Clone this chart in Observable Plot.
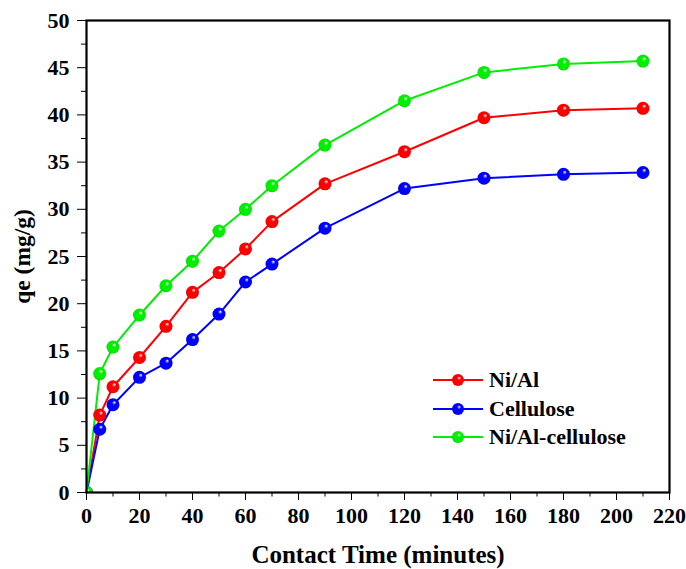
<!DOCTYPE html>
<html><head><meta charset="utf-8">
<script src="https://cdn.jsdelivr.net/npm/d3@7"></script>
<script src="https://cdn.jsdelivr.net/npm/@observablehq/plot@0.6"></script>
<style>
body{margin:0;background:#fff;}
#wrap{position:relative;width:686px;height:569px;}
#legend{position:absolute;left:433px;top:366px;font-family:"Liberation Serif","Times New Roman",serif;font-weight:bold;font-size:22px;color:#000;}
#legend .row{display:flex;align-items:center;height:28.5px;}
#legend .row span{margin-left:6px;}
</style></head>
<body><div id="wrap"><div id="chart"></div><div id="legend"></div></div>
<script>
const times = [0,5,10,20,30,40,50,60,70,90,120,150,180,210];
const niAl = [0,8.2,11.2,14.3,17.6,21.2,23.3,25.8,28.7,32.7,36.1,39.7,40.5,40.7];
const cellulose = [0,6.7,9.3,12.2,13.7,16.2,18.9,22.3,24.2,28.0,32.2,33.3,33.7,33.9];
const niAlCellulose = [0,12.6,15.4,18.8,21.9,24.5,27.7,30.0,32.5,36.8,41.5,44.5,45.4,45.7];
const seriesNames = ["Ni/Al","Cellulose","Ni/Al-cellulose"];
const seriesColors = ["#ff0000","#0000ff","#00ee00"];
const seriesDark = ["#800000","#000080","#007a00"];
const xTicks = d3.range(0,221,20);
const xMinor = d3.range(10,220,20);
const yTicks = d3.range(0,51,5);
const yMinor = d3.range(2.5,50,5);
const xLabel = "Contact Time (minutes)";
const yLabel = "qe (mg/g)";

const seriesValues = [niAl, cellulose, niAlCellulose];
const series = seriesNames.map((name,i)=>({name, color:seriesColors[i], id:"grad"+i,
  data: times.map((t,j)=>({t, q: seriesValues[i][j]}))}));

const font = '"Liberation Serif","Times New Roman",serif';
const marks = [];
for (const s of series) {
  marks.push(Plot.line(s.data, {x:"t", y:"q", stroke:s.color, strokeWidth:2}));
}
for (const s of series) {
  marks.push(Plot.dot(s.data, {x:"t", y:"q", r:6.5, fill:`url(#${s.id})`, stroke:"none", clip:"frame"}));
}
marks.push(
  Plot.axisX({ticks:xMinor, tickSize:4.5, tickWidth:1.5, text:null, label:null}),
  Plot.axisY({ticks:yMinor, tickSize:5, tickWidth:1.5, text:null, label:null}),
  Plot.axisX({ticks:xTicks, tickSize:8, tickWidth:2, tickPadding:7, label:null, fontSize:22, fontWeight:"bold"}),
  Plot.axisY({ticks:yTicks, tickSize:9, tickWidth:2, tickPadding:8, label:null, fontSize:22, fontWeight:"bold"}),
  Plot.frame({stroke:"#000", strokeWidth:2.2}),
  Plot.text([xLabel], {text:d=>d, frameAnchor:"bottom", lineAnchor:"middle", dy:62, fontSize:25, fontWeight:"bold"}),
  Plot.text([yLabel], {text:d=>d, frameAnchor:"left", textAnchor:"middle", lineAnchor:"middle", dx:-64, rotate:-90, fontSize:23.5, fontWeight:"bold"})
);

const svg = Plot.plot({
  width:686, height:569,
  marginLeft:86, marginTop:20, marginRight:17, marginBottom:77,
  x:{domain:[0,220]}, y:{domain:[0,50]},
  style:{fontFamily:font, color:"#000", background:"#fff", overflow:"visible"},
  marks
});
const defs = d3.select(svg).insert("defs", ":first-child");
series.forEach((s,i)=>{
  const g = defs.append("radialGradient").attr("id", s.id)
    .attr("cx","50%").attr("cy","50%").attr("r","55%").attr("fx","62%").attr("fy","30%");
  g.append("stop").attr("offset","0%").attr("stop-color","#ffffff");
  g.append("stop").attr("offset","30%").attr("stop-color",s.color);
  g.append("stop").attr("offset","85%").attr("stop-color",s.color);
  g.append("stop").attr("offset","100%").attr("stop-color",seriesDark[i]);
});
document.getElementById("chart").appendChild(svg);

const leg = d3.select("#legend");
series.forEach(s=>{
  const row = leg.append("div").attr("class","row");
  const sv = row.append("svg").attr("width",50).attr("height",16);
  sv.append("line").attr("x1",0).attr("x2",50).attr("y1",8).attr("y2",8).attr("stroke",s.color).attr("stroke-width",2);
  sv.append("circle").attr("cx",25).attr("cy",8).attr("r",6).attr("fill",`url(#${s.id})`);
  row.append("span").text(s.name);
});
</script></body></html>
